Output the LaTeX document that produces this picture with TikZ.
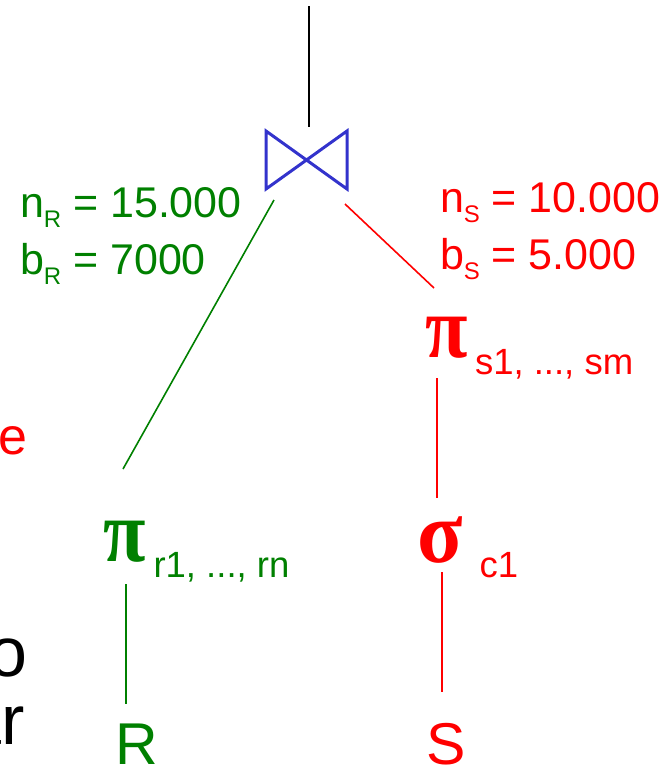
\documentclass[tikz,border=0pt]{standalone}
\usepackage{fontspec}
\setmainfont{Liberation Sans}
\newfontfamily\grk{Liberation Serif}
\usetikzlibrary{calc}
\definecolor{dgreen}{RGB}{0,128,0}
\definecolor{bowblue}{RGB}{51,51,204}
\definecolor{sred}{RGB}{255,0,0}
\newcommand{\withsub}[2]{#1\raisebox{-10pt}{\fontsize{24}{24}\selectfont #2}}
\begin{document}
\begin{tikzpicture}[x=1pt,y=-1pt,
  every node/.style={inner sep=0pt, outer sep=0pt},
  lbl/.style={font=\fontsize{43}{50}\selectfont, anchor=base west},
  grkop/.style={font=\fontsize{88}{90}\selectfont\grk\bfseries, anchor=base},
  subs/.style={font=\fontsize{36.5}{40}\selectfont, anchor=base west},
  rel/.style={font=\fontsize{59}{60}\selectfont, anchor=base},
  frag/.style={anchor=base east},
  conn/.style={line width=1.6pt},
  bow/.style={draw=bowblue, line width=3pt, line join=miter}]
\useasboundingbox (0,0) rectangle (668,772);

% join operator
\node[minimum width=81pt, minimum height=58pt] (join) at (306.5,160) {};
\draw[bow] (join.north west) -- (join.south east) -- (join.north east) -- (join.south west) -- cycle;
\coordinate (top) at (309,6);
\draw[line width=2.2pt, shorten >=4pt] (top) -- (top |- join.north);

% statistics
\node[lbl, text=dgreen] (nR) at (20,217) {\withsub{n}{R} = 15.000};
\node[lbl, text=dgreen] (bR) at (20,274) {\withsub{b}{R} = 7000};
\node[lbl, text=sred] (nS) at (440,212) {\withsub{n}{S} = 10.000};
\node[lbl, text=sred] (bS) at (440,269) {\withsub{b}{S} = 5.000};

% right branch
\node[grkop, text=sred] (pis) at (446.5,357) {\scalebox{0.88}[1]{π}};
\node[subs, text=sred] (pissub) at (475,374) {s1, ..., sm};
\node[grkop, text=sred] (sig) at (440.5,562) {\scalebox{0.95}[1]{σ}};
\node[subs, text=sred] (sigsub) at (479.5,577) {c1};
\node[rel, text=sred] (S) at (446.5,764) {S};

% left branch
\node[grkop, text=dgreen] (pir) at (124.5,561) {\scalebox{0.88}[1]{π}};
\node[subs, text=dgreen] (pirsub) at (153.5,577) {r1, ..., rn};
\node[rel, text=dgreen] (R) at (136.5,764) {R};

% cut-off slide text on the left
\node[frag, text=sred, font=\fontsize{52}{56}\selectfont] (fe) at (27,454) {e};
\node[frag, font=\fontsize{70}{72}\selectfont] (fo) at (27,676) {o};
\node[frag, font=\fontsize{70}{72}\selectfont] (far) at (25,744) {ar};

% connectors
\draw[conn, draw=dgreen] ($(join.south west)+(8,11)$) -- ($(pir.base)+(-1.5,-92)$);
\draw[conn, draw=sred] ($(join.south east)+(-2,15)$) -- ($(pis.base)+(-12.5,-69)$);
\draw[conn, draw=sred] ($(pis.base)+(-9.5,21)$) -- ($(sig.base)+(-3.5,-64)$);
\draw[conn, draw=sred] ($(sig.base)+(1.5,10)$) -- ($(S.base)+(-4.5,-72)$);
\draw[conn, draw=dgreen] ($(pir.base)+(1.5,23)$) -- ($(R.base)+(-10.5,-60)$);
\end{tikzpicture}
\end{document}
